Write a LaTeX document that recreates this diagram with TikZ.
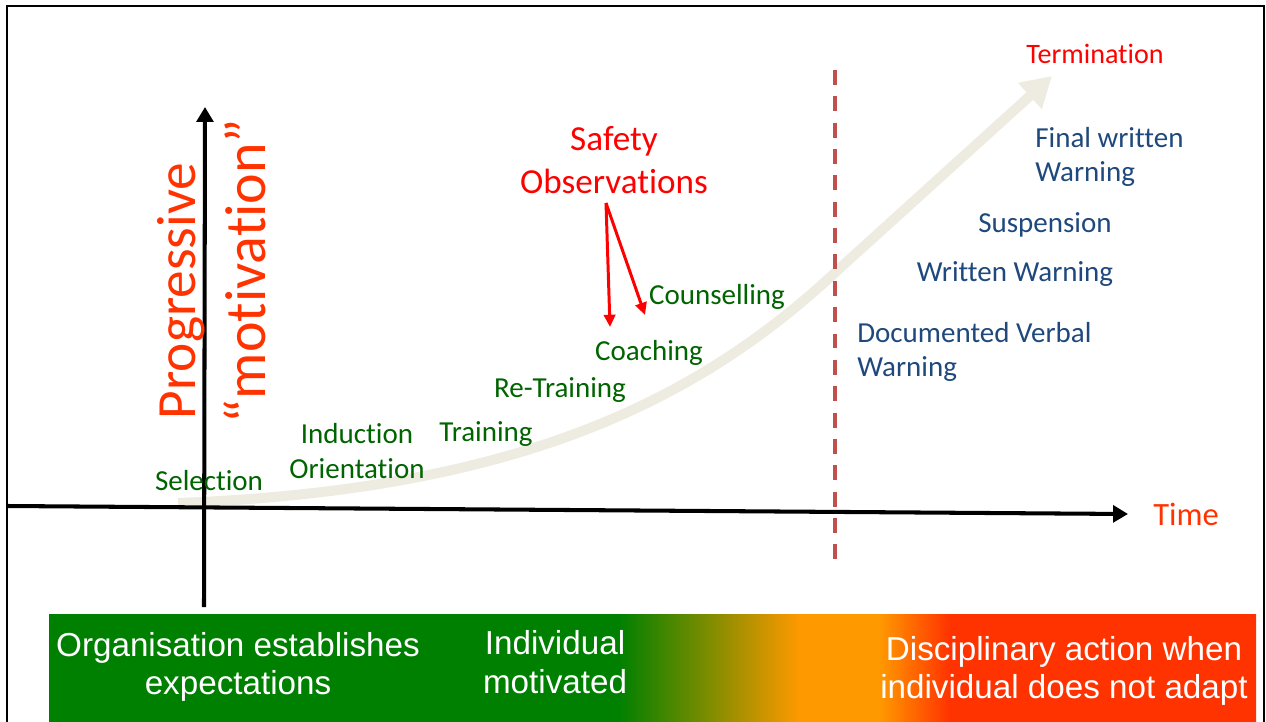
\documentclass[tikz,border=0pt]{standalone}
\usepackage{fontspec}
\setmainfont[Ligatures={TeX,NoCommon}]{Carlito}
\newfontfamily\barfont{Liberation Sans}
\usepackage{tikz}
\usetikzlibrary{arrows.meta,positioning}

\definecolor{obsred}{RGB}{255,0,0}
\definecolor{motred}{RGB}{255,51,0}
\definecolor{stepgreen}{RGB}{0,100,0}
\definecolor{warnblue}{RGB}{31,73,125}
\definecolor{cutred}{RGB}{192,80,77}
\definecolor{trendbeige}{RGB}{238,236,225}
\definecolor{barGreen}{RGB}{0,128,0}
\definecolor{barOrange}{RGB}{255,153,0}
\definecolor{barRed}{RGB}{255,51,0}

\pgfdeclarehorizontalshading{barshade}{100bp}{color(0bp)=(barGreen); color(48.6bp)=(barGreen); color(56.1bp)=(barOrange); color(59.4bp)=(barOrange); color(62.3bp)=(barRed); color(100bp)=(barRed)}

\begin{document}
\begin{tikzpicture}[
    x=0.02cm, y=-0.02cm,
    greenstep/.style={text=stepgreen, inner sep=0pt, font=\fontsize{16.5}{19.5}\selectfont},
    bluestep/.style={text=warnblue, inner sep=0pt, align=left, font=\fontsize{16.5}{19.5}\selectfont},
    axislabel/.style={text=motred, inner sep=0pt, rotate=90, anchor=base, font=\fontsize{31.5}{36}\selectfont},
    bartext/.style={text=white, align=center, inner sep=0pt, font=\barfont\fontsize{18.9}{22}\selectfont},
    axisline/.style={line width=2.3pt, -{Triangle[length=8.5pt,width=9.5pt]}},
    trend/.style={line width=5.7pt, trendbeige, -{Triangle[length=17pt,width=19pt]}},
    obsarrow/.style={line width=1.7pt, obsred, -{Triangle[length=7pt,width=6.5pt]}},
    cutline/.style={line width=2.3pt, cutred, dash pattern=on 8.5pt off 6.5pt}
]

\clip (0,0) rectangle (1266,722);
\fill[white] (0,0) rectangle (1266,722);
\draw[line width=1.2pt] (7,6) rectangle (1264,740);

\shade[shading=barshade] (49,614) rectangle (1256,740);
\node (orgtext) [bartext] at (238,667) {Organisation establishes\\expectations};
\node (indtext) [bartext] at (555,662) {Individual\\motivated};
\node (disctext) [bartext] at (1064,671) {Disciplinary action when\\individual does not adapt};

\coordinate (cstart) at (178,503);
\coordinate (cbend) at (840,268);
\coordinate (cend) at (1052,76);
\draw[trend] (cstart) .. controls (520,490) and (700,400) .. (cbend) -- (cend);

\coordinate (dtop) at (835,70);
\coordinate (dbot) at (835,568);
\draw[cutline] (dtop) -- (dbot);

\coordinate (ybot) at (204,607);
\coordinate (ytop) at (205,107);
\coordinate (xleft) at (7,506);
\coordinate (xtip) at (1128,514);
\draw[axisline] (ybot) -- (ytop);
\draw[axisline] (xleft) -- (xtip);

\node (time) [text=motred, inner sep=0pt, font=\fontsize{18.5}{22}\selectfont, right=0.5cm of xtip] {Time};
\node (prog) [axislabel] at (195,291) {Progressive};
\node (motiv) [axislabel, font=\fontsize{33}{38}\selectfont] at (265,271) {“motivation”};

\node (term) [text=obsred, font=\fontsize{16}{19}\selectfont] at (1095,54) {Termination};
\node (safety) [text=obsred, align=center, font=\fontsize{20}{24.5}\selectfont] at (614,160) {Safety\\Observations};
\node (finalwarn) [bluestep, anchor=west] at (1035,157) {Final written\\Warning};
\node (susp) [bluestep] at (1045,225) {Suspension};
\node (writwarn) [bluestep] at (1015,274) {Written Warning};
\node (docwarn) [bluestep, anchor=west] at (857,352) {Documented Verbal\\Warning};

\node (counsel) [greenstep] at (717,297) {Counselling};
\node (coach) [greenstep] at (649,353) {Coaching};
\node (retrain) [greenstep] at (560,390) {Re-Training};
\node (train) [greenstep] at (486,434) {Training};
\node (induct) [greenstep, align=center] at (357,451) {Induction\\Orientation};
\node (select) [greenstep] at (209,481) {Selection};

\coordinate (obsfoot) at (606,203);
\coordinate (coachtip) at (610,327);
\coordinate (counseltip) at (645,315);
\draw[obsarrow] (obsfoot) -- (coachtip);
\draw[obsarrow] (obsfoot) -- (counseltip);

\end{tikzpicture}
\end{document}
